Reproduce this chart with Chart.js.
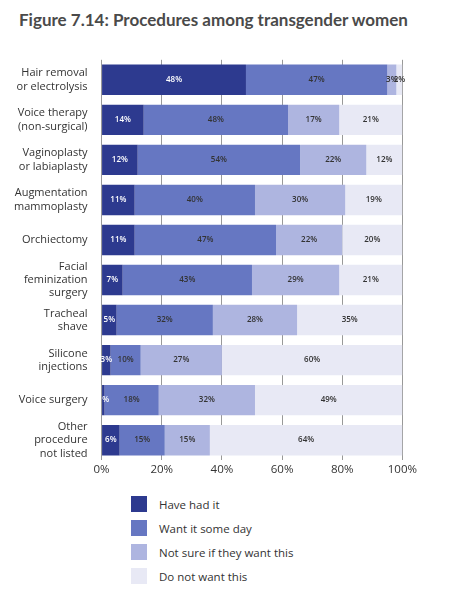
<!DOCTYPE html>
<html>
<head>
<meta charset="utf-8">
<script src="https://cdn.jsdelivr.net/npm/chart.js@4"></script>
<style>
  body { margin: 0; background: #fff; font-family: "Open Sans", sans-serif; }
  h1 { position: absolute; left: 19px; top: 9px; margin: 0; font-family: Lato, sans-serif; font-size: 17px; font-weight: 700; color: #4a4a4a; }
  #wrap { position: absolute; left: 0; top: 34px; width: 420px; height: 446px; }
  #legend { position: absolute; left: 131px; top: 492px; font-size: 11.5px; color: #333; }
  .item { display: flex; align-items: center; height: 24px; }
  .sw { width: 16px; height: 16px; margin-right: 12px; }
</style>
</head>
<body>
<h1>Figure 7.14: Procedures among transgender women</h1>
<div id="wrap"><canvas id="chart"></canvas></div>
<div id="legend"></div>
<script>
const categories = [
  ["Hair removal", "or electrolysis"],
  ["Voice therapy", "(non-surgical)"],
  ["Vaginoplasty", "or labiaplasty"],
  ["Augmentation", "mammoplasty"],
  ["Orchiectomy"],
  ["Facial", "feminization", "surgery"],
  ["Tracheal", "shave"],
  ["Silicone", "injections"],
  ["Voice surgery"],
  ["Other", "procedure", "not listed"]
]
const seriesNames = ["Have had it", "Want it some day", "Not sure if they want this", "Do not want this"]
const hadIt = [48, 14, 12, 11, 11, 7, 5, 3, 1, 6]
const wantIt = [47, 48, 54, 40, 47, 43, 32, 10, 18, 15]
const notSure = [3, 17, 22, 30, 22, 29, 28, 27, 32, 15]
const doNotWant = [2, 21, 12, 19, 20, 21, 35, 60, 49, 64]
const tickLabels = ["0%", "20%", "40%", "60%", "80%", "100%"]
const colors = ["#2d3a8f", "#6677c2", "#aeb5e0", "#e8e9f5"]

const segLabels = {
  id: 'segLabels',
  afterDatasetsDraw(chart) {
    const ctx = chart.ctx
    ctx.save()
    ctx.font = '600 8px "Open Sans", sans-serif'
    ctx.textAlign = 'center'
    ctx.textBaseline = 'middle'
    chart.data.datasets.forEach((ds, i) => {
      chart.getDatasetMeta(i).data.forEach((bar, j) => {
        const x = (bar.x + bar.base) / 2
        ctx.fillStyle = i === 0 ? '#fff' : '#333'
        ctx.fillText(ds.data[j] + '%', x, bar.y)
      })
    })
    ctx.restore()
  }
}

new Chart(document.getElementById('chart'), {
  type: 'bar',
  data: {
    labels: categories,
    datasets: [hadIt, wantIt, notSure, doNotWant].map((d, i) => ({
      label: seriesNames[i], data: d, backgroundColor: colors[i],
      barPercentage: 0.76, categoryPercentage: 1
    }))
  },
  options: {
    indexAxis: 'y',
    animation: false,
    responsive: true,
    maintainAspectRatio: false,
    layout: { padding: { left: 8, right: 4, top: 0, bottom: 0 } },
    plugins: { legend: { display: false }, tooltip: { enabled: false } },
    scales: {
      x: {
        stacked: true, min: 0, max: 100,
        ticks: { stepSize: 20, callback: (v, i) => tickLabels[i], color: '#333', font: { size: 11.5, family: '"Open Sans", sans-serif' } },
        grid: { color: '#999', drawTicks: false },
        border: { display: false }
      },
      y: {
        stacked: true,
        ticks: { autoSkip: false, color: '#333', font: { size: 11, family: '"Open Sans", sans-serif' }, padding: 6 },
        grid: { display: false },
        border: { display: false }
      }
    }
  },
  plugins: [segLabels]
})

document.getElementById('legend').innerHTML = seriesNames.map((n, i) =>
  `<div class="item"><div class="sw" style="background:${colors[i]}"></div>${n}</div>`).join('')
</script>
</body>
</html>
